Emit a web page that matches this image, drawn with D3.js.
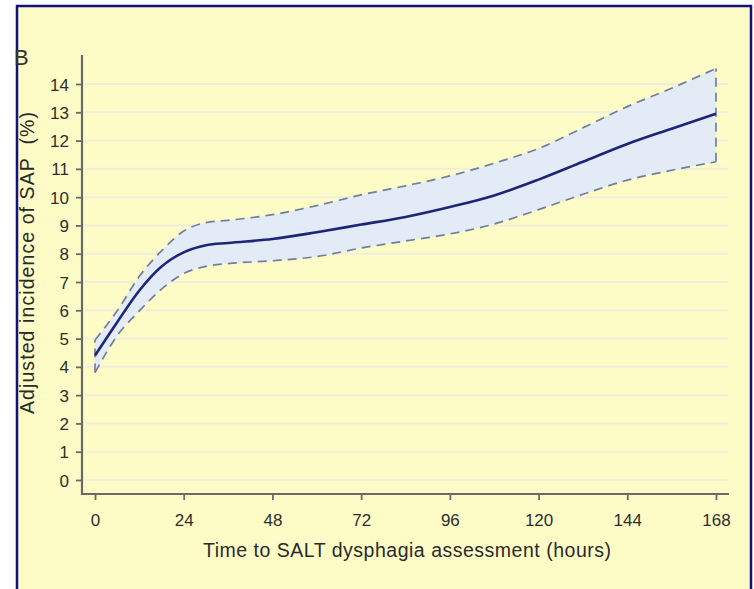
<!DOCTYPE html>
<html>
<head>
<meta charset="utf-8">
<script src="https://cdn.jsdelivr.net/npm/d3@7"></script>
<style>
  html, body { margin: 0; padding: 0; background: #ffffff; }
  svg { display: block; }
  text { font-family: Arial, "Liberation Sans", sans-serif; }
</style>
</head>
<body>
<svg id="chart" width="754" height="589"></svg>
<script>
// Hours after admission at which the fitted curve is evaluated
const hours = [0, 6, 12, 18, 24, 30, 36, 48, 60, 72, 84, 96, 108, 120, 132, 144, 156, 168];
// Adjusted incidence of SAP (%) and its 95% confidence limits
const meanIncidence = [4.4, 5.58, 6.7, 7.55, 8.05, 8.3, 8.38, 8.52, 8.76, 9.03, 9.3, 9.65, 10.06, 10.62, 11.25, 11.88, 12.42, 12.95];
const upperLimit    = [4.95, 5.98, 7.2, 8.1, 8.8, 9.1, 9.18, 9.38, 9.7, 10.08, 10.4, 10.75, 11.2, 11.72, 12.45, 13.2, 13.85, 14.55];
const lowerLimit    = [3.8, 5.1, 5.98, 6.75, 7.3, 7.55, 7.65, 7.75, 7.9, 8.2, 8.45, 8.7, 9.05, 9.56, 10.1, 10.6, 10.95, 11.25];
const xTicks = [0, 24, 48, 72, 96, 120, 144, 168];
const yTicks = d3.range(0, 15);

const svg = d3.select("#chart");

// Panel background and border
svg.append("rect")
  .attr("x", 17).attr("y", 6).attr("width", 734).attr("height", 590)
  .attr("fill", "#fdfcc7").attr("stroke", "#12127a").attr("stroke-width", 2.5);

const x = d3.scaleLinear().domain([0, 168]).range([95, 716]);
const y = d3.scaleLinear().domain([0, 14]).range([480, 84]);

// Horizontal grid lines
svg.append("g").selectAll("line").data(yTicks).join("line")
  .attr("x1", 85).attr("x2", 728)
  .attr("y1", d => y(d)).attr("y2", d => y(d))
  .attr("stroke", "#f0eddd").attr("stroke-width", 2);

const pts = hours.map((h, i) => ({ h, m: meanIncidence[i], lo: lowerLimit[i], hi: upperLimit[i] }));
const curve = d3.curveMonotoneX;

// Confidence band
svg.append("path").datum(pts)
  .attr("d", d3.area().x(d => x(d.h)).y0(d => y(d.lo)).y1(d => y(d.hi)).curve(curve))
  .attr("fill", "#e3ebf6");

// Band outline (dashed), including the closing ends
const first = pts[0], last = pts[pts.length - 1];
const dashStyle = sel => sel.attr("fill", "none").attr("stroke", "#6f7f9e")
  .attr("stroke-width", 1.7).attr("stroke-dasharray", "9,6");

svg.append("path").datum(pts)
  .attr("d", d3.line().x(d => x(d.h)).y(d => y(d.hi)).curve(curve)).call(dashStyle);
svg.append("path").datum(pts)
  .attr("d", d3.line().x(d => x(d.h)).y(d => y(d.lo)).curve(curve)).call(dashStyle);
svg.append("line")
  .attr("x1", x(last.h)).attr("x2", x(last.h))
  .attr("y1", y(last.lo)).attr("y2", y(last.hi)).call(dashStyle);
svg.append("line")
  .attr("x1", x(first.h)).attr("x2", x(first.h))
  .attr("y1", y(first.lo)).attr("y2", y(first.hi)).call(dashStyle);

// Fitted curve
svg.append("path").datum(pts)
  .attr("d", d3.line().x(d => x(d.h)).y(d => y(d.m)).curve(curve))
  .attr("fill", "none").attr("stroke", "#1c2678").attr("stroke-width", 2.6);

// Axes
const axisColor = "#6a6a6a";
const yAxis = svg.append("g").attr("transform", "translate(82,0)")
  .call(d3.axisLeft(y).tickValues(yTicks).tickSize(6).tickSizeOuter(0));
const xAxis = svg.append("g").attr("transform", "translate(0,494)")
  .call(d3.axisBottom(x).tickValues(xTicks).tickSize(6).tickSizeOuter(0));

[yAxis, xAxis].forEach(g => {
  g.attr("font-size", 17).attr("font-family", "Arial, 'Liberation Sans', sans-serif");
  g.select(".domain").remove();
  g.selectAll(".tick line").attr("stroke", axisColor).attr("stroke-width", 1.8);
  g.selectAll(".tick text").attr("fill", "#2e2e2e");
});
yAxis.selectAll(".tick text").attr("x", -13).attr("dy", "0.36em");
xAxis.selectAll(".tick text").attr("y", 20);

svg.append("line").attr("x1", 82).attr("x2", 82).attr("y1", 55).attr("y2", 495)
  .attr("stroke", axisColor).attr("stroke-width", 2.2);
svg.append("line").attr("x1", 81).attr("x2", 729).attr("y1", 494).attr("y2", 494)
  .attr("stroke", axisColor).attr("stroke-width", 2.2);

// Titles
svg.append("text").attr("x", 407).attr("y", 557).attr("text-anchor", "middle")
  .attr("font-size", 19.5).attr("fill", "#2a2a2a")
  .attr("textLength", 408).attr("lengthAdjust", "spacing")
  .text("Time to SALT dysphagia assessment (hours)");

svg.append("text").attr("transform", "translate(34,263) rotate(-90)")
  .attr("text-anchor", "middle").attr("font-size", 19.5).attr("fill", "#2a2a2a")
  .attr("textLength", 302).attr("lengthAdjust", "spacing")
  .style("white-space", "pre")
  .text("Adjusted incidence of SAP  (%)");

svg.append("text").attr("x", 14).attr("y", 65)
  .attr("font-size", 22).attr("fill", "#333333").text("B");
</script>
</body>
</html>
